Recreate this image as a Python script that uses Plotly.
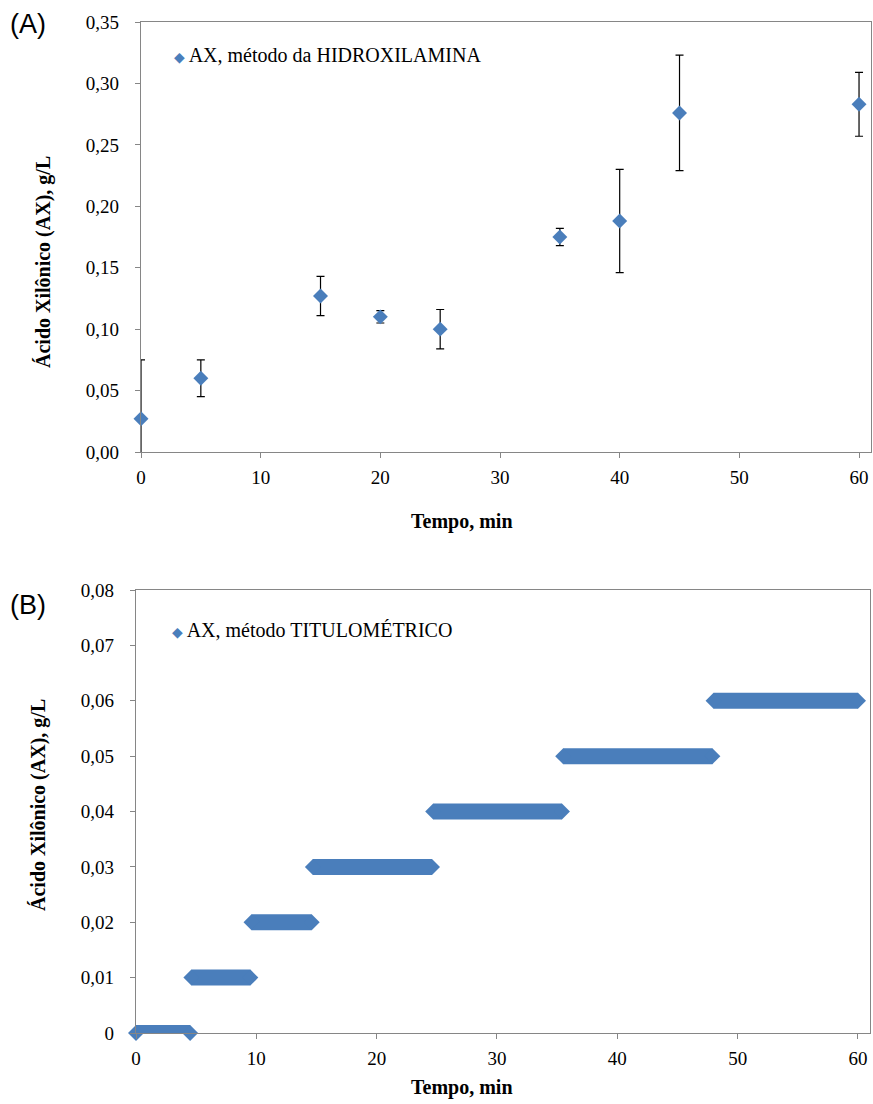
import plotly.graph_objects as go

# ---------------- data ----------------
# Panel A: hydroxylamine method
time_a = [0, 5, 15, 20, 25, 35, 40, 45, 60]
ax_a = [0.027, 0.060, 0.127, 0.110, 0.100, 0.175, 0.188, 0.276, 0.283]
err_a = [0.048, 0.015, 0.016, 0.005, 0.016, 0.007, 0.042, 0.047, 0.026]

# Panel B: titrimetric method (step readings: level held from start to end time)
levels_b = [0.00, 0.01, 0.02, 0.03, 0.04, 0.05, 0.06]
start_b = [0.0, 4.6, 9.6, 14.7, 24.7, 35.5, 48.0]
end_b = [4.5, 9.5, 14.6, 24.6, 35.4, 47.9, 60.0]

yticks_a = [0, 0.05, 0.10, 0.15, 0.20, 0.25, 0.30, 0.35]
yticks_b = [0, 0.01, 0.02, 0.03, 0.04, 0.05, 0.06, 0.07, 0.08]
yticktext_b = ["0", "0,01", "0,02", "0,03", "0,04", "0,05", "0,06", "0,07", "0,08"]
xticks = [0, 10, 20, 30, 40, 50, 60]

legend_a = "AX, método da HIDROXILAMINA"
legend_b = "AX, método TITULOMÉTRICO"
xtitle = "Tempo, min"
ytitle = "Ácido Xilônico (AX), g/L"

# ---------------- style ----------------
BLUE = "#4a7ebb"
AXC = "#868686"
SERIF = "Liberation Serif, Times New Roman, serif"
TICKFONT = dict(family=SERIF, size=19, color="#000")

fig = go.Figure()

fig.add_trace(go.Scatter(
    x=time_a, y=ax_a, mode="markers", xaxis="x", yaxis="y",
    marker=dict(symbol="diamond", size=11.5, color=BLUE, line=dict(width=0)),
    error_y=dict(type="data", array=err_a, color="#000", thickness=1.2, width=4),
    cliponaxis=False, showlegend=False,
))

for lv, s, e in zip(levels_b, start_b, end_b):
    fig.add_trace(go.Scatter(
        x=[s, e], y=[lv, lv], mode="lines", xaxis="x2", yaxis="y2",
        line=dict(color=BLUE, width=16), cliponaxis=False, showlegend=False,
    ))
fig.add_trace(go.Scatter(
    x=start_b + end_b, y=levels_b + levels_b, mode="markers", xaxis="x2", yaxis="y2",
    marker=dict(symbol="diamond", size=12.3, color=BLUE, line=dict(width=0)),
    cliponaxis=False, showlegend=False,
))

W, H = 873, 1104
axcommon = dict(showline=True, linecolor=AXC, linewidth=1.3, mirror=True,
                showgrid=False, zeroline=False, ticks="outside", ticklen=5,
                tickcolor=AXC, tickfont=TICKFONT, automargin=False)

fig.update_layout(
    template="none",
    width=W, height=H, margin=dict(l=0, r=0, t=0, b=0, pad=0),
    paper_bgcolor="white", plot_bgcolor="white",
    font=dict(family=SERIF, color="#000"),
    separators=",.",
    xaxis=dict(domain=[141 / W, 871 / W], range=[0, 61], tickvals=xticks,
               anchor="y", ticklabelstandoff=3, **axcommon),
    yaxis=dict(domain=[1 - 452 / H, 1 - 22 / H], range=[0, 0.35], tickvals=yticks_a,
               tickformat=".2f", anchor="x", ticklabelstandoff=12, **axcommon),
    xaxis2=dict(domain=[136 / W, 870 / W], range=[0, 61], tickvals=xticks,
                anchor="y2", ticklabelstandoff=3, **axcommon),
    yaxis2=dict(domain=[1 - 1033 / H, 1 - 590 / H], range=[0, 0.08], tickvals=yticks_b,
                ticktext=yticktext_b, anchor="x2", ticklabelstandoff=12, **axcommon),
)

ann = []
def txt(x, y, t, size=20, bold=False, angle=0, family=SERIF, xanchor="center"):
    ann.append(dict(x=x / W, y=1 - y / H, xref="paper", yref="paper", text=f"<b>{t}</b>" if bold else t,
                    showarrow=False, textangle=angle, xanchor=xanchor, yanchor="middle",
                    font=dict(family=family, size=size, color="#000")))

txt(8, 24, "(A)", size=27, family="Liberation Sans, Arial, sans-serif", xanchor="left")
txt(8, 605, "(B)", size=27, family="Liberation Sans, Arial, sans-serif", xanchor="left")
txt(462, 521, xtitle, bold=True)
txt(462, 1087, xtitle, bold=True)
txt(43, 262, ytitle, bold=True, angle=-90)
txt(38, 805, ytitle, bold=True, angle=-90)
legmark = f'<span style="color:{BLUE};font-family:DejaVu Sans;font-size:14px">◆</span>'
txt(172, 55, legmark + " " + legend_a, size=20, xanchor="left")
txt(170, 630, legmark + " " + legend_b, size=20, xanchor="left")
fig.update_layout(annotations=ann)

fig.write_html("out.html")
